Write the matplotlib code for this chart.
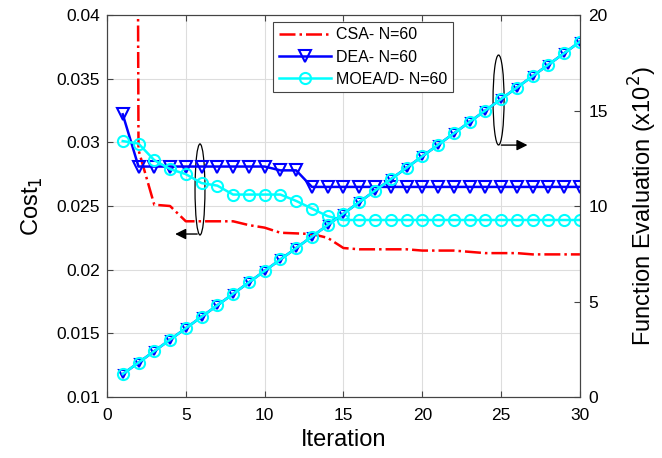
import numpy as np
import matplotlib.pyplot as plt
from matplotlib.patches import Ellipse

plt.rcParams['font.family'] = ['Liberation Sans', 'DejaVu Sans']

# Data
iteration = list(range(1, 31))
csa_cost = [0.4, 0.0294, 0.0251, 0.0250, 0.0238, 0.0238, 0.0238, 0.0238, 0.0235, 0.0233,
            0.0229, 0.02285, 0.0228, 0.0225, 0.0217, 0.0216, 0.0216, 0.0216, 0.0216, 0.0215,
            0.0215, 0.0215, 0.0214, 0.0213, 0.0213, 0.0213, 0.0212, 0.0212, 0.0212, 0.0212]
dea_cost = [0.0322, 0.0281, 0.0281, 0.0281, 0.0281, 0.0281, 0.0281, 0.0281, 0.0281, 0.0281,
            0.0278, 0.0278, 0.0265, 0.0265, 0.0265, 0.0265, 0.0265, 0.0265, 0.0265, 0.0265,
            0.0265, 0.0265, 0.0265, 0.0265, 0.0265, 0.0265, 0.0265, 0.0265, 0.0265, 0.0265]
moead_cost = [0.0301, 0.0299, 0.0286, 0.0279, 0.0275, 0.0268, 0.0266, 0.0259, 0.0259, 0.0259,
              0.0259, 0.0254, 0.0248, 0.0242, 0.0239, 0.0239, 0.0239, 0.0239, 0.0239, 0.0239,
              0.0239, 0.0239, 0.0239, 0.0239, 0.0239, 0.0239, 0.0239, 0.0239, 0.0239, 0.0239]
func_eval = [1.2, 1.8, 2.4, 3.0, 3.6, 4.2, 4.8, 5.4, 6.0, 6.6,
             7.2, 7.8, 8.4, 9.0, 9.6, 10.2, 10.8, 11.4, 12.0, 12.6,
             13.2, 13.8, 14.4, 15.0, 15.6, 16.2, 16.8, 17.4, 18.0, 18.6]

fig = plt.figure(figsize=(6.62, 4.58), dpi=100)
ax = fig.add_axes([0.1616, 0.1332, 0.7144, 0.834])
ax2 = ax.twinx()

ax.plot(iteration, csa_cost, color='red', linestyle='-.', linewidth=1.8, label='CSA- N=60')
ax.plot(iteration, dea_cost, color='blue', linewidth=1.8, marker='v', markersize=8,
        markerfacecolor='none', markeredgewidth=1.5, label='DEA- N=60')
ax.plot(iteration, moead_cost, color='cyan', linewidth=1.8, marker='o', markersize=8,
        markerfacecolor='none', markeredgewidth=1.5, label='MOEA/D- N=60')

ax2.plot(iteration, func_eval, color='blue', linewidth=1.8, marker='v', markersize=6,
         markerfacecolor='none', markeredgewidth=1.5)
ax2.plot(iteration, func_eval, color='cyan', linewidth=1.8, marker='o', markersize=8,
         markerfacecolor='none', markeredgewidth=1.5)

ax.set_xlim(0, 30)
ax.set_ylim(0.01, 0.04)
ax2.set_ylim(0, 20)
ax.set_xticks([0, 5, 10, 15, 20, 25, 30])
ax.set_yticks([0.01, 0.015, 0.02, 0.025, 0.03, 0.035, 0.04])
ax.set_yticklabels(['0.01', '0.015', '0.02', '0.025', '0.03', '0.035', '0.04'])
ax2.set_yticks([0, 5, 10, 15, 20])

ax.grid(True, color='#dddddd', linewidth=0.8)
ax.set_axisbelow(True)
for a in (ax, ax2):
    a.tick_params(direction='in', labelsize=12.5, length=4, color='#444444')
    for s in a.spines.values():
        s.set_color('#444444')
ax.tick_params(top=True)
ax.tick_params(axis='x', pad=8)
ax.tick_params(axis='y', pad=5)
ax2.tick_params(axis='y', pad=6)

ax.set_xlabel('Iteration', fontsize=17, labelpad=4)
ax.set_ylabel('Cost$_1$', fontsize=17, labelpad=8)
ax2.set_ylabel('Function Evaluation (x10$^2$)', fontsize=17, labelpad=14)

# annotations
ax.add_patch(Ellipse((5.9, 0.0263), 0.63, 0.00715, fill=False, edgecolor='black', linewidth=0.9))
ax.annotate('', xy=(4.15, 0.0228), xytext=(5.9, 0.0228),
            arrowprops=dict(arrowstyle='-|>', color='black', lw=1, mutation_scale=16))
ax2.add_patch(Ellipse((24.84, 15.55), 0.7, 4.71, fill=False, edgecolor='black', linewidth=0.9))
ax2.annotate('', xy=(26.85, 13.19), xytext=(24.84, 13.19),
             arrowprops=dict(arrowstyle='-|>', color='black', lw=1, mutation_scale=16))

h, l = ax.get_legend_handles_labels()
leg = ax2.legend(h, l, loc='upper left', bbox_to_anchor=(0.351, 0.982), fontsize=11.5,
                 fancybox=False, edgecolor='#444444', framealpha=1, borderaxespad=0,
                 borderpad=0.35, handlelength=3.3, labelspacing=0.45, handletextpad=0.3)
leg.get_frame().set_linewidth(0.8)

fig.savefig('out.png', dpi=100)
